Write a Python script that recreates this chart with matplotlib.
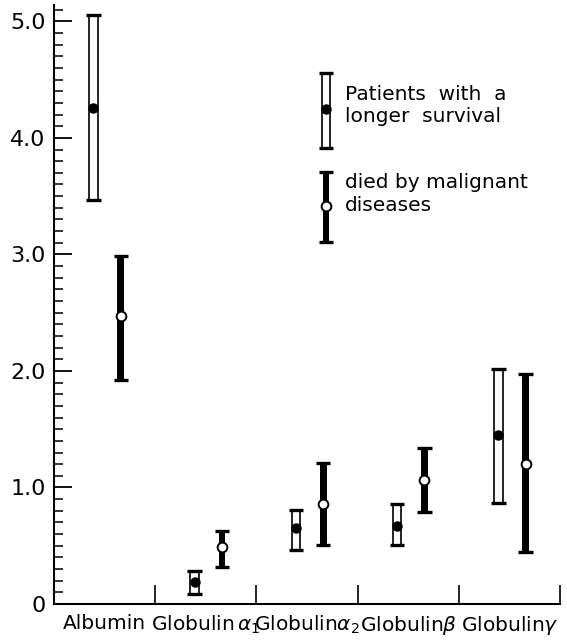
import numpy as np
import matplotlib.pyplot as plt

categories = ["Albumin", r"Globulin$\,\alpha_1$", r"Globulin$\alpha_2$",
              r"Globulin$\beta$", r"Globulin$\gamma$"]

# patients with a longer survival (open bars, black dot)
surv_mean = [4.26, 0.19, 0.65, 0.67, 1.45]
surv_low = [3.47, 0.09, 0.46, 0.51, 0.87]
surv_high = [5.05, 0.28, 0.81, 0.86, 2.02]

# died by malignant diseases (solid bars, open circle)
mal_mean = [2.47, 0.49, 0.86, 1.06, 1.20]
mal_low = [1.92, 0.32, 0.51, 0.79, 0.45]
mal_high = [2.99, 0.63, 1.21, 1.34, 1.97]

ytick_labels = ["0", "1.0", "2.0", "3.0", "4.0", "5.0"]


def range_bar(ax, x, lo, mid, hi, solid):
    x, lo, mid, hi = map(np.atleast_1d, (x, lo, mid, hi))
    if solid:
        ax.bar(x, hi - lo, bottom=lo, width=0.068, color="black",
               linewidth=0, zorder=2)
    else:
        ax.bar(x, hi - lo, bottom=lo, width=0.085, facecolor="white",
               edgecolor="black", linewidth=1.2, zorder=2)
    for xi, l, h in zip(x, lo, hi):
        ax.hlines([l, h], xi - 0.072, xi + 0.072, color="black",
                  linewidth=2.4, zorder=3)
    if solid:
        ax.plot(x, mid, "o", ms=7, mfc="white", mec="black", mew=1.4,
                ls="none", zorder=4)
    else:
        ax.plot(x, mid, "o", ms=6.5, color="black", ls="none", zorder=4)


def main():
    fig = plt.figure(figsize=(5.67, 6.4), dpi=100)
    ax = fig.add_axes([54 / 567, 36 / 640, 506 / 567, 599 / 640])
    ax.set_xlim(0, 5)
    ax.set_ylim(0, 5.14)

    pos = np.arange(len(categories))
    range_bar(ax, pos + 0.39, surv_low, surv_mean, surv_high, solid=False)
    range_bar(ax, pos + 0.66, mal_low, mal_mean, mal_high, solid=True)

    # axes styling
    for s in ["top", "right"]:
        ax.spines[s].set_visible(False)
    for s in ["left", "bottom"]:
        ax.spines[s].set_linewidth(1.5)

    ax.set_yticks(np.arange(6))
    ax.set_yticklabels(ytick_labels)
    ax.set_yticks(np.arange(0, 5.15, 0.1), minor=True)
    ax.tick_params(axis="y", which="major", direction="in", length=13,
                   width=1.3, labelsize=16, pad=6)
    ax.tick_params(axis="y", which="minor", direction="in", length=6.5,
                   width=1.1)

    ax.set_xticks(pos + 1)
    ax.set_xticklabels([])
    ax.set_xticks(pos + 0.5, minor=True)
    ax.set_xticklabels(categories, minor=True)
    ax.tick_params(axis="x", which="major", direction="in", length=14,
                   width=1.2)
    ax.tick_params(axis="x", which="minor", length=0, labelsize=14.5, pad=7)

    # legend, drawn by hand in axes fractions
    to_data = ax.transLimits.inverted().transform
    kx, top1 = to_data((0.5375, 0.887))
    _, bot1 = to_data((0.5375, 0.761))
    _, mid1 = to_data((0.5375, 0.826))
    range_bar(ax, kx, bot1, mid1, top1, solid=False)
    _, top2 = to_data((0.5375, 0.722))
    _, bot2 = to_data((0.5375, 0.605))
    _, mid2 = to_data((0.5375, 0.665))
    range_bar(ax, kx, bot2, mid2, top2, solid=True)

    ax.text(0.575, 0.832, "Patients  with  a\nlonger  survival",
            transform=ax.transAxes, fontsize=14.5, va="center",
            linespacing=1.2)
    ax.text(0.575, 0.685, "died by malignant\ndiseases",
            transform=ax.transAxes, fontsize=14.5, va="center",
            linespacing=1.25)

    fig.savefig("out.png", dpi=100)
    plt.close(fig)


if __name__ == "__main__":
    main()
